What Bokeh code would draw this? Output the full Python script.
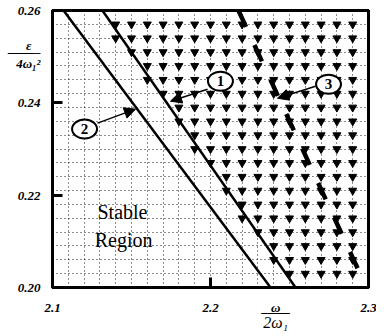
import numpy as np
from bokeh.plotting import figure
from bokeh.models import Arrow, NormalHead, FixedTicker, Range1d, LinearAxis
from bokeh.core.properties import value
from bokeh.embed import file_html
from bokeh.resources import INLINE

# ---- data ----
x_ticks = [2.1, 2.2, 2.3]
x_tick_labels = ["2.1", "2.2", "2.3"]
y_ticks = [0.20, 0.22, 0.24, 0.26]
y_tick_labels = ["0.20", "0.22", "0.24", "0.26"]

grid_x = [2.11, 2.12, 2.13, 2.14, 2.15, 2.16, 2.17, 2.18, 2.19, 2.20,
          2.21, 2.22, 2.23, 2.24, 2.25, 2.26, 2.27, 2.28, 2.29]
grid_y = [0.203, 0.206, 0.209, 0.212, 0.215, 0.218, 0.221, 0.224, 0.227, 0.230,
          0.233, 0.236, 0.239, 0.242, 0.245, 0.248, 0.251, 0.254, 0.257]

line1_x = [2.1316, 2.2538]
line1_y = [0.26, 0.20]
line2_x = [2.107, 2.238]
line2_y = [0.26, 0.20]
line3_x = [2.2177, 2.2987]
line3_y = [0.26, 0.20]

# unstable region markers begin just left of curve 1
edge_offset = 0.004

circle_x = [2.2063, 2.1203, 2.2747]
circle_y = [0.24468, 0.23432, 0.24403]
circle_text = ["1", "2", "3"]

arrow_start_x = [2.1981, 2.1285, 2.2665]
arrow_start_y = [0.24295, 0.23561, 0.2436]
arrow_end_x = [2.1747, 2.1525, 2.2424]
arrow_end_y = [0.24036, 0.23863, 0.2410]

region_text = ["Stable", "Region"]
region_x = [2.1443, 2.1450]
region_y = [0.2163, 0.2102]

# axis-title pieces (fractions) placed as extra tick labels
y_title_pos = [0.25242, 0.25113, 0.24852]
y_title_text = ["ε\u2002\u2009", "——–", "4ω₁²"]
x_title_pos = [2.2412]
x_title_num = ["ω"]
x_title_den = ["——\n2ω₁"]

# ---- figure ----
p = figure(width=376, height=336, x_range=Range1d(2.1, 2.3), y_range=Range1d(0.20, 0.26),
           output_backend="svg", toolbar_location=None,
           min_border_left=52, min_border_right=8, min_border_top=10, min_border_bottom=49)
p.background_fill_color = "white"
p.border_fill_color = "white"
p.outline_line_color = "black"
p.outline_line_width = 3

def style_axis(ax):
    ax.axis_line_color = "black"
    ax.axis_line_width = 3
    ax.major_tick_line_color = None
    ax.major_tick_in = 0
    ax.major_tick_out = 0
    ax.minor_tick_in = 10
    ax.minor_tick_out = 0
    ax.minor_tick_line_width = 3
    ax.minor_tick_line_color = "black"
    ax.major_label_text_font = "Liberation Serif"
    ax.major_label_text_font_style = "bold italic"
    ax.major_label_text_font_size = "13px"
    ax.major_label_text_color = "black"

xa = p.xaxis[0]
ya = p.yaxis[0]
style_axis(xa)
style_axis(ya)

xa.ticker = FixedTicker(ticks=x_ticks + x_title_pos, minor_ticks=x_ticks)
xa.major_label_overrides = {**{t: l for t, l in zip(x_ticks, x_tick_labels)},
                            **{t: l for t, l in zip(x_title_pos, x_title_num)}}
xa.major_label_standoff = 12

ya.ticker = FixedTicker(ticks=y_ticks + y_title_pos, minor_ticks=y_ticks)
ya.major_label_overrides = {**{t: l for t, l in zip(y_ticks, y_tick_labels)},
                            **{t: l for t, l in zip(y_title_pos, y_title_text)}}
ya.major_label_standoff = 12

# denominator of x title on a second, label-only axis below
xa2 = LinearAxis(ticker=FixedTicker(ticks=x_title_pos),
                 major_label_overrides={t: l for t, l in zip(x_title_pos, x_title_den)})
xa2.axis_line_color = None
xa2.major_tick_line_color = None
xa2.minor_tick_line_color = None
xa2.major_tick_in = 0
xa2.major_tick_out = 0
xa2.minor_tick_out = 0
xa2.major_label_standoff = -15
xa2.major_label_text_font = "Liberation Serif"
xa2.major_label_text_font_style = "italic"
xa2.major_label_text_font_size = "16px"
xa2.major_label_text_line_height = 0.68
xa2.major_label_text_color = "black"
p.add_layout(xa2, "below")

# frame edges on top and right
for side in ("above", "right"):
    ax = LinearAxis(ticker=FixedTicker(ticks=[]))
    ax.axis_line_color = "black"
    ax.axis_line_width = 3
    ax.major_tick_line_color = None
    ax.minor_tick_line_color = None
    ax.major_tick_in = 0
    ax.major_tick_out = 0
    ax.minor_tick_out = 0
    ax.major_label_standoff = 0
    p.add_layout(ax, side)

p.xgrid.ticker = FixedTicker(ticks=grid_x)
p.ygrid.ticker = FixedTicker(ticks=grid_y)
for g in (p.xgrid[0], p.ygrid[0]):
    g.grid_line_color = "black"
    g.grid_line_dash = "1 3"
    g.grid_line_width = 1
    g.grid_line_alpha = 0.9

# unstable-region markers at grid intersections
gx, gy = np.meshgrid(grid_x, grid_y)
gx = gx.ravel(); gy = gy.ravel()
edge = np.interp(gy, line1_y[::-1], line1_x[::-1]) - edge_offset
mask = gx >= edge
p.scatter(gx[mask], gy[mask], marker="inverted_triangle", size=8, color="black")

# curves
p.line(line2_x, line2_y, line_color="black", line_width=2.5)
p.line(line1_x, line1_y, line_color="black", line_width=2.5)
p.line(line3_x, line3_y, line_color="black", line_width=4.5, line_dash="18 20")

# arrows
for xs, ys, xe, ye in zip(arrow_start_x, arrow_start_y, arrow_end_x, arrow_end_y):
    p.add_layout(Arrow(end=NormalHead(size=11, fill_color="black", line_color="black"),
                       x_start=xs, y_start=ys, x_end=xe, y_end=ye,
                       line_color="black", line_width=1.5))

# circled labels
p.ellipse(circle_x, circle_y, width=25, height=19, width_units="screen", height_units="screen",
          fill_color="white", line_color="black", line_width=2)
p.text(circle_x, circle_y, text=circle_text, text_font=value("Liberation Serif"),
       text_font_style="bold", text_font_size="15px", text_align="center",
       text_baseline="middle", text_color="black")

p.text(region_x, region_y, text=region_text, text_font=value("Liberation Serif"),
       text_font_size="20px", text_align="center", text_baseline="middle", text_color="black")

open("out.html", "w").write(file_html(p, INLINE))
